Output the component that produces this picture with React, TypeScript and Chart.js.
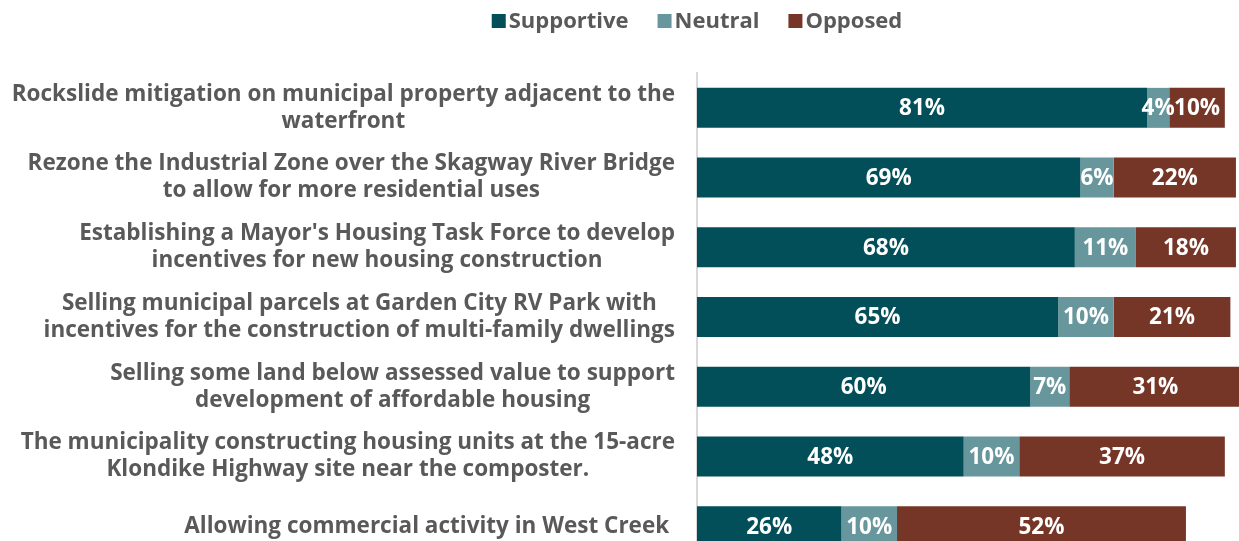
import React, { useEffect, useRef } from "react";
import { Chart, registerables } from "chart.js";

Chart.register(...registerables);

const categories: string[][] = [
  ["Rockslide mitigation on municipal property adjacent to the", "waterfront"],
  ["Rezone the Industrial Zone over the Skagway River Bridge", "to allow for more residential uses"],
  ["Establishing a Mayor's Housing Task Force to develop", "incentives for new housing construction"],
  ["Selling municipal parcels at Garden City RV Park with", "incentives for the construction of multi-family dwellings"],
  ["Selling some land below assessed value to support", "development of affordable housing"],
  ["The municipality constructing housing units at the 15-acre", "Klondike Highway site near the composter."],
  ["Allowing commercial activity in West Creek "],
];

const seriesNames = ["Supportive", "Neutral", "Opposed"];
const supportive = [81, 69, 68, 65, 60, 48, 26];
const neutral = [4, 6, 11, 10, 7, 10, 10];
const opposed = [10, 22, 18, 21, 31, 37, 52];
const seriesColors = ["#024F5A", "#67979C", "#763627"];

const FONT = "'Open Sans', 'Noto Sans', sans-serif";
const TEXT_GRAY = "#595959";

const labelPlugin = {
  id: "customLabels",
  afterDraw(chart: any) {
    const ctx = chart.ctx;
    const yScale = chart.scales.y;
    // Category labels
    ctx.save();
    ctx.fillStyle = TEXT_GRAY;
    ctx.font = `bold 22.5px ${FONT}`;
    ctx.textBaseline = "middle";
    ctx.textAlign = "center";
    const lineH = 27;
    const rightEdge = chart.chartArea.left - 22;
    categories.forEach((lines, i) => {
      const yc = yScale.getPixelForValue(i);
      const w = Math.max(...lines.map((l) => ctx.measureText(l).width));
      const cx = rightEdge - w / 2;
      const y0 = yc - ((lines.length - 1) * lineH) / 2;
      lines.forEach((l, j) => ctx.fillText(l, cx, y0 + j * lineH));
    });
    ctx.restore();

    // Legend
    ctx.save();
    ctx.font = `bold 22px ${FONT}`;
    ctx.textBaseline = "middle";
    ctx.textAlign = "left";
    const box = 14;
    const gap = 3;
    const itemGap = 29;
    const widths = seriesNames.map((n) => box + gap + ctx.measureText(n).width);
    const total = widths.reduce((a, b) => a + b, 0) + itemGap * (widths.length - 1);
    let x = chart.chartArea.left - total / 2;
    const yLeg = 21;
    seriesNames.forEach((n, i) => {
      ctx.fillStyle = seriesColors[i];
      ctx.fillRect(x, yLeg - box / 2, box, box);
      ctx.fillStyle = TEXT_GRAY;
      ctx.fillText(n, x + box + gap, yLeg + 1);
      x += widths[i] + itemGap;
    });
    ctx.restore();
  },
  afterDatasetsDraw(chart: any) {
    const ctx = chart.ctx;
    ctx.save();
    ctx.fillStyle = "#FFFFFF";
    ctx.font = `bold 22.5px ${FONT}`;
    ctx.textAlign = "center";
    ctx.textBaseline = "middle";
    chart.data.datasets.forEach((ds: any, di: number) => {
      const meta = chart.getDatasetMeta(di);
      meta.data.forEach((bar: any, i: number) => {
        const v = ds.data[i];
        const cx = (bar.x + bar.base) / 2;
        ctx.fillText(`${v}%`, cx, bar.y + 1);
      });
    });
    ctx.restore();
  },
};

export default function App() {
  const ref = useRef<HTMLCanvasElement | null>(null);
  useEffect(() => {
    if (!ref.current) return;
    const chart = new Chart(ref.current, {
      type: "bar",
      data: {
        labels: categories.map((c) => c.join(" ")),
        datasets: [
          { label: seriesNames[0], data: supportive, backgroundColor: seriesColors[0], borderWidth: 0 },
          { label: seriesNames[1], data: neutral, backgroundColor: seriesColors[1], borderWidth: 0 },
          { label: seriesNames[2], data: opposed, backgroundColor: seriesColors[2], borderWidth: 0 },
        ],
      },
      options: {
        indexAxis: "y",
        responsive: false,
        animation: false,
        events: [],
        layout: { padding: { left: 697, right: 0, top: 73, bottom: 9 } },
        datasets: { bar: { categoryPercentage: 1, barPercentage: 0.574 } },
        scales: {
          x: { stacked: true, min: 0, max: 97.55, display: false },
          y: {
            stacked: true,
            ticks: { display: false },
            grid: { display: false, drawTicks: false },
            border: { display: true, color: "#D9D9D9", width: 2 },
            afterFit: (s: any) => {
              s.width = 0;
            },
          },
        },
        plugins: {
          legend: { display: false },
          tooltip: { enabled: false },
        },
      },
      plugins: [labelPlugin],
    });
    return () => chart.destroy();
  }, []);
  return (
    <div
      style={{
        position: "fixed",
        left: 0,
        top: 0,
        width: 1239,
        height: 541,
        overflow: "hidden",
        background: "#fff",
      }}
    >
      <canvas ref={ref} width={1239} height={570} style={{ display: "block" }} />
    </div>
  );
}
